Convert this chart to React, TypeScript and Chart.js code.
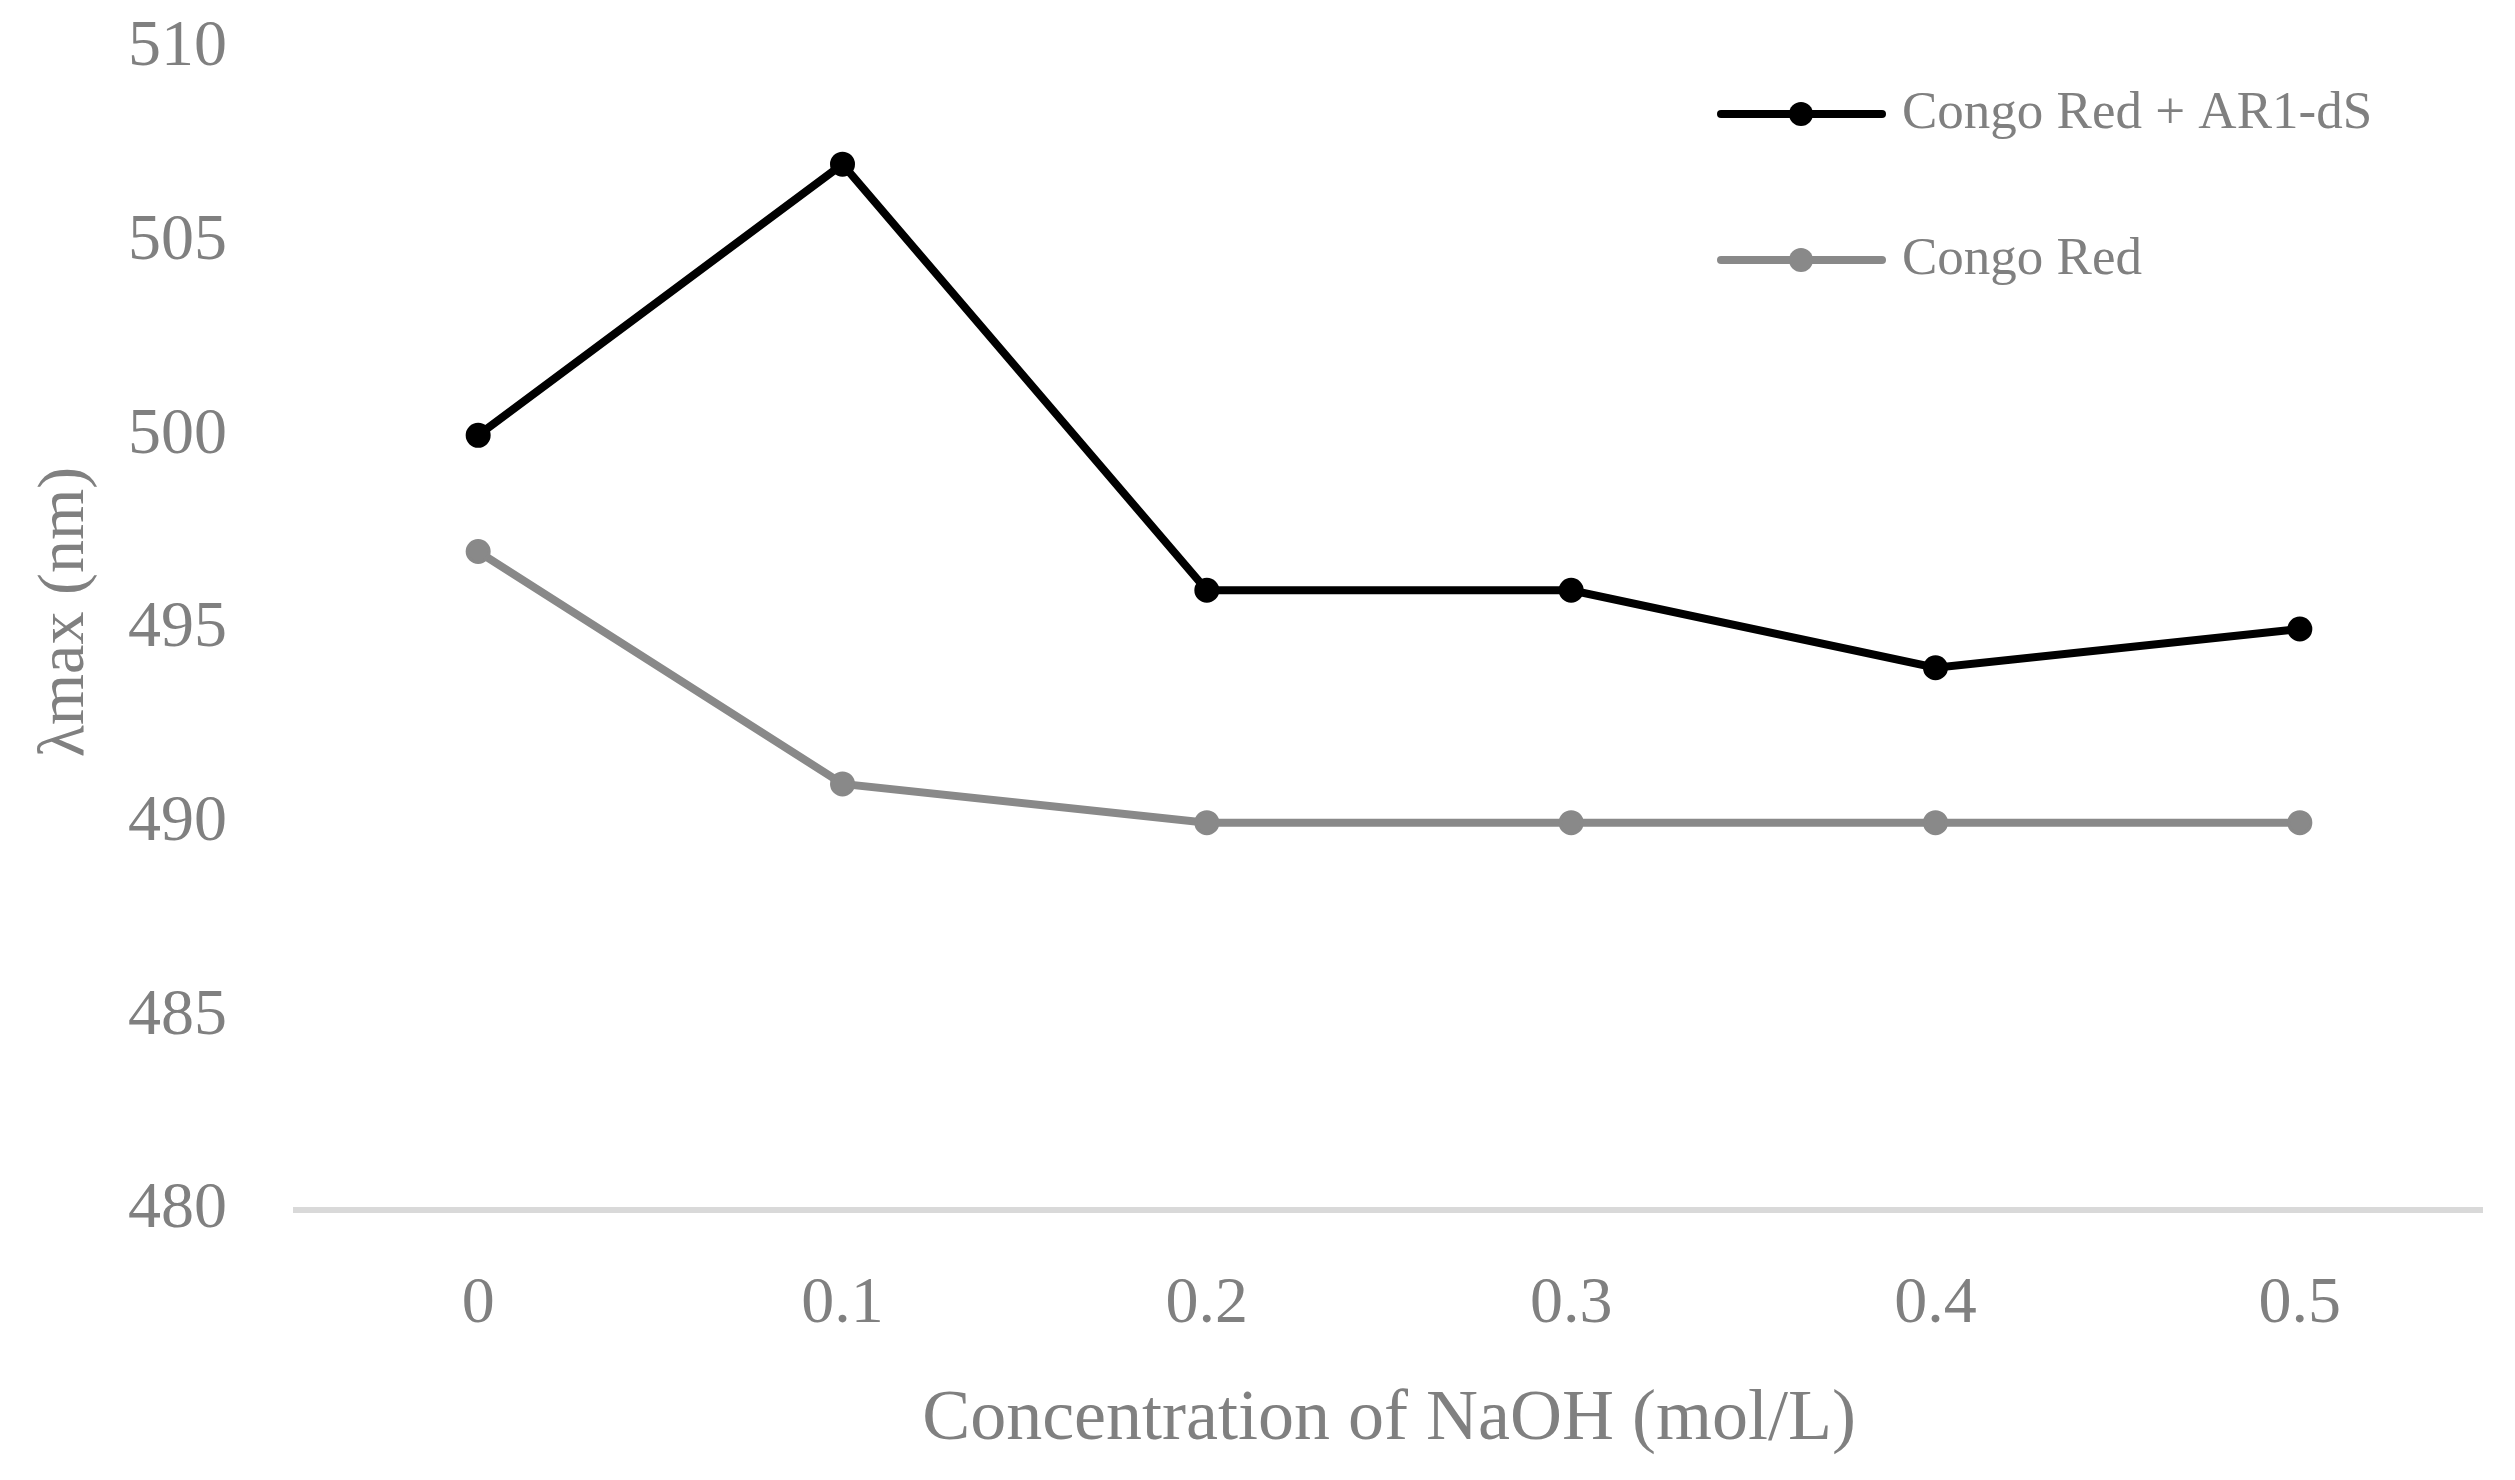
import React, { useEffect, useRef } from "react";
import { Chart, registerables } from "chart.js";

Chart.register(...registerables);

const categories = ["0", "0.1", "0.2", "0.3", "0.4", "0.5"];
const congoRedAR1dS = [500, 507, 496, 496, 494, 495];
const congoRed = [497, 491, 490, 490, 490, 490];
const seriesLabels = ["Congo Red + AR1-dS", "Congo Red"];
const seriesColors = ["#000000", "#898989"];
const yMin = 480;
const yMax = 510;
const yStep = 5;
const xTitle = "Concentration of NaOH (mol/L)";
const yTitle = "λmax (nm)";

const FONT = '"Liberation Serif", "Times New Roman", serif';
const TEXT = "#808080";

const legendPlugin = {
  id: "customLegend",
  afterDraw(chart: any) {
    const ctx = chart.ctx;
    const rows = [114, 260];
    chart.data.datasets.forEach((ds: any, i: number) => {
      const y = rows[i];
      ctx.save();
      ctx.strokeStyle = ds.borderColor;
      ctx.lineWidth = 8;
      ctx.lineCap = "round";
      ctx.beginPath();
      ctx.moveTo(1721, y);
      ctx.lineTo(1882, y);
      ctx.stroke();
      ctx.fillStyle = ds.pointBackgroundColor;
      ctx.beginPath();
      ctx.arc(1801, y, 12, 0, Math.PI * 2);
      ctx.fill();
      ctx.fillStyle = TEXT;
      ctx.font = `53px ${FONT}`;
      ctx.textBaseline = "middle";
      ctx.textAlign = "left";
      ctx.fillText(ds.label, 1902, y);
      ctx.restore();
    });
    // y axis title
    ctx.save();
    ctx.translate(66, 612);
    ctx.rotate(-Math.PI / 2);
    ctx.fillStyle = TEXT;
    ctx.font = `66px ${FONT}`;
    ctx.textAlign = "center";
    ctx.textBaseline = "middle";
    ctx.fillText(yTitle, 0, 0);
    ctx.restore();
  },
};

export default function App() {
  const ref = useRef<HTMLCanvasElement | null>(null);

  useEffect(() => {
    if (!ref.current) return;
    const series = [congoRedAR1dS, congoRed];
    const chart = new Chart(ref.current, {
      type: "line",
      data: {
        labels: categories,
        datasets: series.map((d, i) => ({
          label: seriesLabels[i],
          data: d,
          borderColor: seriesColors[i],
          backgroundColor: seriesColors[i],
          pointBackgroundColor: seriesColors[i],
          pointBorderColor: seriesColors[i],
          borderWidth: 8,
          pointRadius: 11,
          pointBorderWidth: 3,
          tension: 0,
          fill: false,
        })),
      },
      options: {
        responsive: false,
        animation: false,
        devicePixelRatio: 1,
        layout: { padding: { top: 48, right: 33, left: 0, bottom: 0 } },
        plugins: {
          legend: { display: false },
          tooltip: { enabled: false },
        },
        scales: {
          x: {
            type: "category",
            offset: true,
            grid: { display: false, drawTicks: false },
            border: { display: true, color: "#d9d9d9", width: 6 },
            ticks: {
              color: TEXT,
              padding: 55,
              font: { family: FONT, size: 66 },
              maxRotation: 0,
            },
            title: {
              display: true,
              text: xTitle,
              color: TEXT,
              font: { family: FONT, size: 72 },
              padding: { top: 0, bottom: 17 },
            },
            afterFit: (scale: any) => {
              scale.height = 270;
              scale.paddingLeft = 0;
              scale.paddingRight = 0;
            },
          },
          y: {
            min: yMin,
            max: yMax,
            grid: { display: false, drawTicks: false },
            border: { display: false },
            ticks: {
              stepSize: yStep,
              color: TEXT,
              padding: 69,
              font: { family: FONT, size: 66 },
            },
            title: { display: false },
            afterFit: (scale: any) => {
              scale.width = 296;
              scale.paddingTop = 0;
              scale.paddingBottom = 0;
            },
          },
        },
      },
      plugins: [legendPlugin],
    } as any);
    return () => chart.destroy();
  }, []);

  return (
    <div style={{ position: "fixed", left: 0, top: 0, width: 2515, height: 1480, background: "#fff" }}>
      <canvas ref={ref} width={2515} height={1480} style={{ display: "block" }} />
    </div>
  );
}
